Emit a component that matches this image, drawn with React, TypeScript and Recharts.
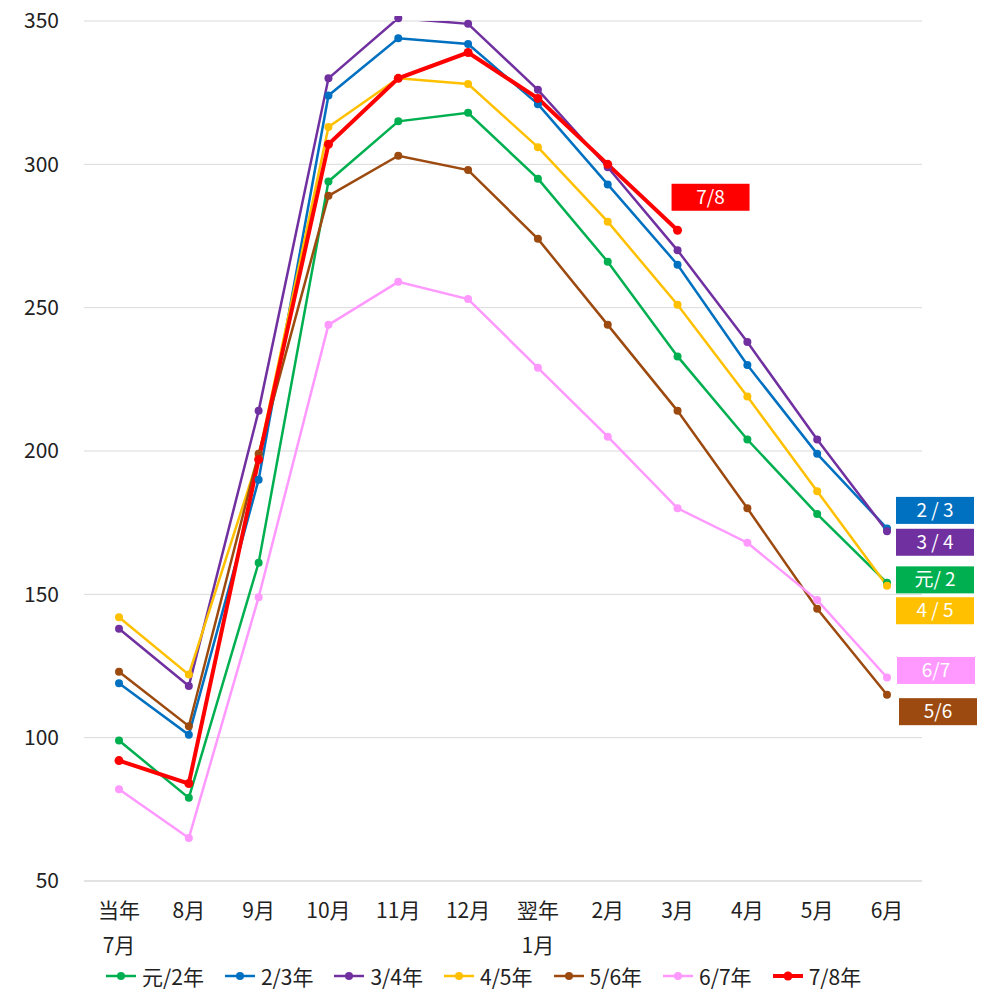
import React from "react";
import { LineChart, Line, CartesianGrid, XAxis, YAxis, Legend } from "recharts";

document.body.style.margin = "0";

const months = ["当年\n7月", "8月", "9月", "10月", "11月", "12月", "翌年\n1月", "2月", "3月", "4月", "5月", "6月"];
const yTicks = [50, 100, 150, 200, 250, 300, 350];

const s12 = [99, 79, 161, 294, 315, 318, 295, 266, 233, 204, 178, 154];
const s23 = [119, 101, 190, 324, 344, 342, 321, 293, 265, 230, 199, 173];
const s34 = [138, 118, 214, 330, 351, 349, 326, 299, 270, 238, 204, 172];
const s45 = [142, 122, 198, 313, 330, 328, 306, 280, 251, 219, 186, 153];
const s56 = [123, 104, 199, 289, 303, 298, 274, 244, 214, 180, 145, 115];
const s67 = [82, 65, 149, 244, 259, 253, 229, 205, 180, 168, 148, 121];
const s78 = [92, 84, 197, 307, 330, 339, 323, 300, 277, null, null, null];

const seriesNames = ["元/2年", "2/3年", "3/4年", "4/5年", "5/6年", "6/7年", "7/8年"];
const endLabels = ["元/ 2", "2 / 3", "3 / 4", "4 / 5", "5/6", "6/7", "7/8"];

const FONT = "'Noto Sans CJK JP', 'Noto Sans', sans-serif";

const series = [
  { key: "s12", values: s12, color: "#00B050", width: 2.5, r: 4, dx: 48, dy: -3, last: 11 },
  { key: "s23", values: s23, color: "#0070C0", width: 2.5, r: 4, dx: 48, dy: -18, last: 11 },
  { key: "s34", values: s34, color: "#7030A0", width: 2.5, r: 4, dx: 48, dy: 11, last: 11 },
  { key: "s45", values: s45, color: "#FFC000", width: 2.5, r: 4, dx: 48, dy: 25, last: 11 },
  { key: "s56", values: s56, color: "#9C4A0F", width: 2.5, r: 4, dx: 51, dy: 17, last: 11 },
  { key: "s67", values: s67, color: "#FF99FF", width: 2.5, r: 4, dx: 49, dy: -7, last: 11 },
  { key: "s78", values: s78, color: "#FF0000", width: 4, r: 4.5, dx: 33, dy: -33, last: 8 },
];

const data = months.map((m, i) => {
  const row: Record<string, any> = { month: m };
  series.forEach((s) => (row[s.key] = s.values[i]));
  return row;
});

function MonthTick(props: any) {
  const { x, y, payload } = props;
  const lines = String(payload.value).split("\n");
  return (
    <g>
      {lines.map((t, i) => (
        <text key={i} x={x} y={y + 24 + i * 35} textAnchor="middle" fill="#222" fontSize={21} fontFamily={FONT}>
          {t}
        </text>
      ))}
    </g>
  );
}

function endLabel(idx: number) {
  const s = series[idx];
  return (props: any) => {
    const { x, y, index } = props;
    if (index !== s.last || x == null || y == null) return null;
    const cx = x + s.dx;
    const cy = y + s.dy;
    return (
      <g>
        <rect x={cx - 39} y={cy - 13.5} width={78} height={27} fill={s.color} />
        <text x={cx} y={cy + 6.5} textAnchor="middle" fill="#fff" fontSize={19} fontFamily={FONT}>
          {endLabels[idx]}
        </text>
      </g>
    );
  };
}

function LegendBox() {
  return (
    <div style={{ display: "flex", paddingLeft: 106, paddingTop: 8, gap: 21, fontFamily: FONT, fontSize: 21, color: "#222", lineHeight: "24px" }}>
      {series.map((s, i) => (
        <div key={s.key} style={{ display: "flex", alignItems: "center" }}>
          <svg width={30} height={12} style={{ marginRight: 6 }}>
            <line x1={0} y1={6} x2={30} y2={6} stroke={s.color} strokeWidth={s.width} />
            <circle cx={15} cy={6} r={s.r} fill={s.color} />
          </svg>
          <span>{seriesNames[i]}</span>
        </div>
      ))}
    </div>
  );
}

export default function App() {
  return (
    <LineChart width={986} height={992} data={data} margin={{ top: 21, right: 64, bottom: 0, left: 0 }}>
      <CartesianGrid vertical={false} stroke="#d9d9d9" strokeWidth={1} />
      <XAxis
        dataKey="month"
        interval={0}
        height={75}
        padding={{ left: 35, right: 35 }}
        axisLine={{ stroke: "#d9d9d9", strokeWidth: 1 }}
        tickLine={false}
        tickMargin={7}
        tick={<MonthTick />}
      />
      <YAxis
        width={84}
        domain={[50, 350]}
        allowDataOverflow
        ticks={yTicks}
        axisLine={false}
        tickLine={false}
        tickMargin={19}
        tick={{ fill: "#222", fontSize: 21, fontFamily: FONT }}
      />
      <Legend verticalAlign="bottom" height={36} content={() => <LegendBox />} />
      {series.map((s, i) => (
        <Line
          key={s.key}
          type="linear"
          dataKey={s.key}
          name={seriesNames[i]}
          stroke={s.color}
          strokeWidth={s.width}
          dot={{ r: s.r, fill: s.color, stroke: "none", clipDot: false }}
          activeDot={false}
          label={endLabel(i)}
          isAnimationActive={false}
        />
      ))}
    </LineChart>
  );
}
